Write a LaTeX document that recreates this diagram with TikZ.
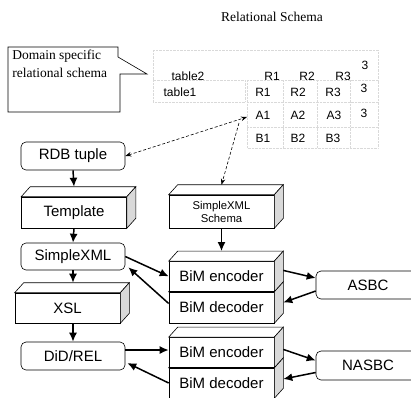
\documentclass[tikz,border=0pt]{standalone}
\usepackage{fontspec}
\setmainfont{Liberation Serif}
\setsansfont{Liberation Sans}
\usetikzlibrary{arrows.meta, positioning}

% top and side faces of a box node
\newcommand\boxfaces[1]{%
  \draw[fill=white] (#1.north west) -- ++(9,-10) -- ([shift={(9,-10)}]#1.north east) -- (#1.north east) -- cycle;
  \draw[fill=gray!30] (#1.north east) -- ++(9,-10) -- ([shift={(9,-10)}]#1.south east) -- (#1.south east) -- cycle;}

\begin{document}
\begin{tikzpicture}[x=1pt, y=-1pt, line width=0.6pt,
    rbox/.style={draw, fill=white, rounded corners=5pt, minimum width=104pt, minimum height=28pt, inner sep=0pt, font=\sffamily\fontsize{15}{17}\selectfont},
    cube/.style={draw, fill=white, minimum width=105pt, minimum height=31pt, inner sep=0pt, font=\sffamily\fontsize{15}{17}\selectfont},
    cell/.style={font=\sffamily\fontsize{12}{14}\selectfont, inner sep=1pt},
    link/.style={-{Latex[length=9pt,width=8pt]}, line width=1.5pt},
    dashlink/.style={densely dashed, line width=0.6pt},
    faint/.style={gray!30, densely dotted, line width=0.4pt}]
        \clip (0,0) rectangle (411,397);
        \node[font=\rmfamily\fontsize{13.5}{15}\selectfont] (title) at (272,17) {Relational Schema};
        % callout
        \draw (8,47) -- (118,47) -- (118,57) -- (147,74) -- (120,74) -- (120,112) -- (8,112) -- cycle;
        \node[anchor=north west, align=left, inner sep=0pt, font=\rmfamily\fontsize{13.5}{18}\selectfont] (note) at (12,50) {Domain specific\\relational schema};
        % table
        \draw[faint] (153,50) rectangle (378,80);
        \node[cell] (t2) at (188,76) {table2};
        \node[cell] (r21) at (272,76) {R1};
        \node[cell] (r22) at (307,76) {R2};
        \node[cell] (r23) at (343,76) {R3};
        \node[cell] (n2) at (365,65) {3};
        \fill[white] (150,79.5) rectangle (378,102);
        \draw[faint] (153,80) rectangle (245,102);
        \draw[faint] (247,80) rectangle (378,148);
        \draw[faint] (247,102) -- (378,102) (247,127) -- (378,127);
        \draw[faint] (283,80) -- (283,148) (317,80) -- (317,148) (350,80) -- (350,148);
        \node[cell] (t1) at (180,92) {table1};
        \node[cell] (r11) at (263,92) {R1};
        \node[cell] (r12) at (298,92) {R2};
        \node[cell] (r13) at (333,92) {R3};
        \node[cell] (n1) at (364,88) {3};
        \node[cell] (a1) at (263,115) {A1};
        \node[cell] (a2) at (298,115) {A2};
        \node[cell] (a3) at (334,115) {A3};
        \node[cell] (na) at (364,113) {3};
        \node[cell] (b1) at (263,138) {B1};
        \node[cell] (b2) at (298,138) {B2};
        \node[cell] (b3) at (333,138) {B3};
        \coordinate (tip) at (247,117);
        \coordinate (tab) at (239,123);
        % left column
        \node[rbox] (rdb) at (73,156) {RDB tuple};
        \node[cube, minimum height=31pt] (tmpl) at (74,212.5) {Template};
        \boxfaces{tmpl}
        \node[rbox, minimum height=27pt] (sxml) at (73,256.5) {SimpleXML};
        \node[cube, minimum height=30pt] (xsl) at (67.5,308) {XSL};
        \boxfaces{xsl}
        \node[rbox] (did) at (73,356) {DiD/REL};
        \coordinate (xsltop) at ([yshift=10pt]xsl.north);
        % right column
        \node[cube, minimum height=33pt, align=center, font=\sffamily\fontsize{11.3}{13}\selectfont] (schema) at (221.5,211.5) {SimpleXML\\Schema};
        \boxfaces{schema}
        \node[cube] (dec1) at (221.5,307.5) {BiM decoder};
        \boxfaces{dec1}
        \node[cube, minimum height=30pt, above=0pt of dec1] (enc1) {BiM encoder};
        \boxfaces{enc1}
        \node[cube, minimum height=30pt] (dec2) at (221.5,383) {BiM decoder};
        \boxfaces{dec2}
        \node[cube, minimum height=30pt, above=0pt of dec2] (enc2) {BiM encoder};
        \boxfaces{enc2}
        \node[rbox] (asbc) at (368,285) {ASBC};
        \node[rbox, minimum height=29pt] (nasbc) at (368,365.5) {NASBC};
        % connectors
        \draw[link] (rdb.south) -- ([yshift=10pt]tmpl.north);
        \draw[link] (tmpl.south) -- (sxml.north);
        \draw[link] (sxml.south) -- (sxml.south |- xsltop);
        \draw[link] (did.north |- xsl.south) -- (did.north);
        \draw[link] (schema.south) -- ([yshift=10pt]enc1.north);
        \draw[link] (sxml.east) -- (enc1.west);
        \draw[link] ([yshift=4pt]dec1.west) -- ([xshift=3pt,yshift=3pt]sxml.south east);
        \draw[link] ([yshift=6pt]did.east) -- ([yshift=6pt]did.east -| enc2.west);
        \draw[link] (dec2.west) -- ([xshift=2pt,yshift=-7pt]did.east);
        \draw[link] ([xshift=9pt,yshift=6pt]enc1.east) -- ([yshift=7pt]asbc.west);
        \draw[link] ([yshift=-6pt]asbc.west) -- ([xshift=9pt,yshift=5pt]dec1.east);
        \draw[link] ([xshift=9pt,yshift=3pt]enc2.east) -- ([yshift=5pt]nasbc.west);
        \draw[link] ([yshift=-7pt]nasbc.west) -- ([xshift=9pt,yshift=4pt]dec2.east);
        \draw[dashlink, {Stealth[length=6pt]}-{Stealth[length=6pt]}] (rdb.east) -- (tip);
        \draw[dashlink, -{Stealth[length=6pt]}] (tab) -- ([yshift=10pt]schema.north);
    \end{tikzpicture}
\end{document}
